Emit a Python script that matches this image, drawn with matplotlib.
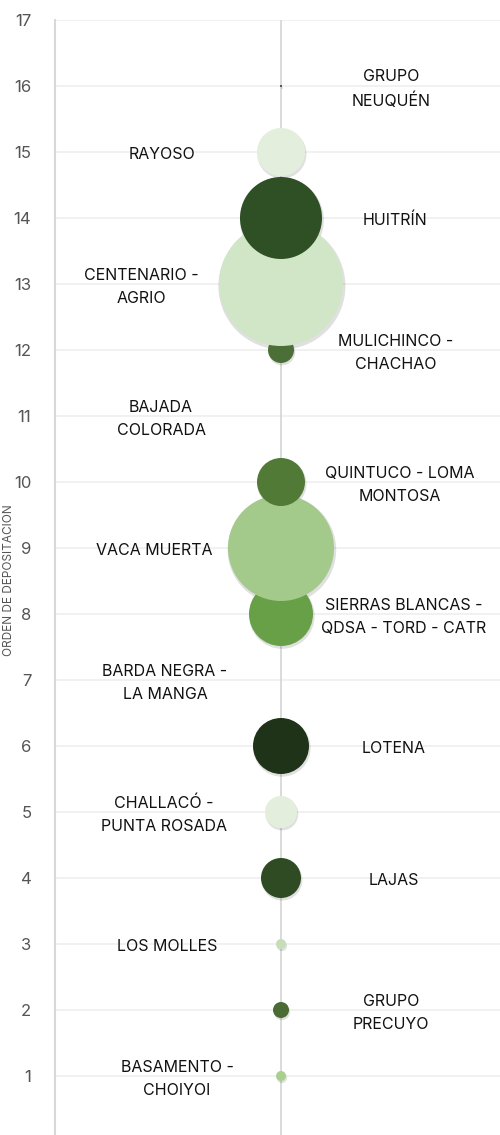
import matplotlib.pyplot as plt
import numpy as np

plt.rcParams['font.family'] = ['Inter', 'DejaVu Sans']

# orden de depositacion (1 = mas antiguo)
orden = [1, 2, 3, 4, 5, 6, 7, 8, 9, 10, 11, 12, 13, 14, 15, 16]
unidades = ['BASAMENTO -\nCHOIYOI', 'GRUPO\nPRECUYO', 'LOS MOLLES', 'LAJAS',
            'CHALLACÓ -\nPUNTA ROSADA', 'LOTENA', 'BARDA NEGRA -\nLA MANGA',
            'SIERRAS BLANCAS -\nQDSA - TORD - CATR', 'VACA MUERTA',
            'QUINTUCO - LOMA\nMONTOSA', 'BAJADA\nCOLORADA', 'MULICHINCO -\nCHACHAO',
            'CENTENARIO -\nAGRIO', 'HUITRÍN', 'RAYOSO', 'GRUPO\nNEUQUÉN']
# tamano relativo de cada burbuja (area)
tamano = [25, 64, 25, 400, 256, 784, 0, 1024, 2809, 576, 0, 169, 3844, 1681, 576, 1]
colores = ['#a9cf8f', '#4a6b34', '#c6deb6', '#2f4b23', '#e3efdc', '#1f3318',
           '#ffffff', '#67a047', '#a3c98b', '#507a36', '#ffffff', '#4b6f36',
           '#d1e5c7', '#2f4f25', '#e3efdc', '#2d3d25']

# centro horizontal de cada etiqueta (px de la figura)
etiqueta_px = [177, 391, 167, 394, 164, 394, 165, 404, 154, 400, 161, 396, 141, 395, 162, 391]

fig = plt.figure(figsize=(5, 11.35), dpi=100)
ax = fig.add_axes([55 / 500, -7 / 1135, 452 / 500, 1122 / 1135])

x = np.ones(len(orden))
s = np.array(tamano) * (2 * 0.72) ** 2
ax.axvline(1, color='#d4d4d4', lw=1.2, zorder=1)
# sombra suave
ax.scatter(x + 0.004, np.array(orden) - 0.03, s=s * 1.05, c='#000000', alpha=0.12,
           linewidths=0, zorder=2)
ax.scatter(x, orden, s=s, c=colores, linewidths=0, zorder=3)

for o, u, px in zip(orden, unidades, etiqueta_px):
    xt = (px - 55) / 226
    ax.text(xt, o - 0.04, u, ha='center', va='center', fontsize=11.5, color='#111111',
            linespacing=1.65, zorder=4)

ax.set_xlim(0, 2)
ax.set_ylim(0, 17)
ax.set_yticks(range(0, 18))
ax.set_xticks([])
ax.grid(axis='y', color='#efefef', lw=1.2)
ax.set_axisbelow(True)
for sp in ['top', 'right', 'bottom']:
    ax.spines[sp].set_visible(False)
ax.spines['left'].set_color('#d8d8d8')
ax.spines['left'].set_linewidth(1.5)
ax.tick_params(axis='y', length=0, pad=17, labelsize=12, labelcolor='#555555')
for t in ax.get_yticklabels():
    t.set_horizontalalignment('right')

fig.text(3 / 500, 1 - 580 / 1135, 'ORDEN DE DEPOSITACION', rotation=90,
         ha='left', va='center', fontsize=8.5, color='#555555')

fig.savefig('out.png', dpi=100)
